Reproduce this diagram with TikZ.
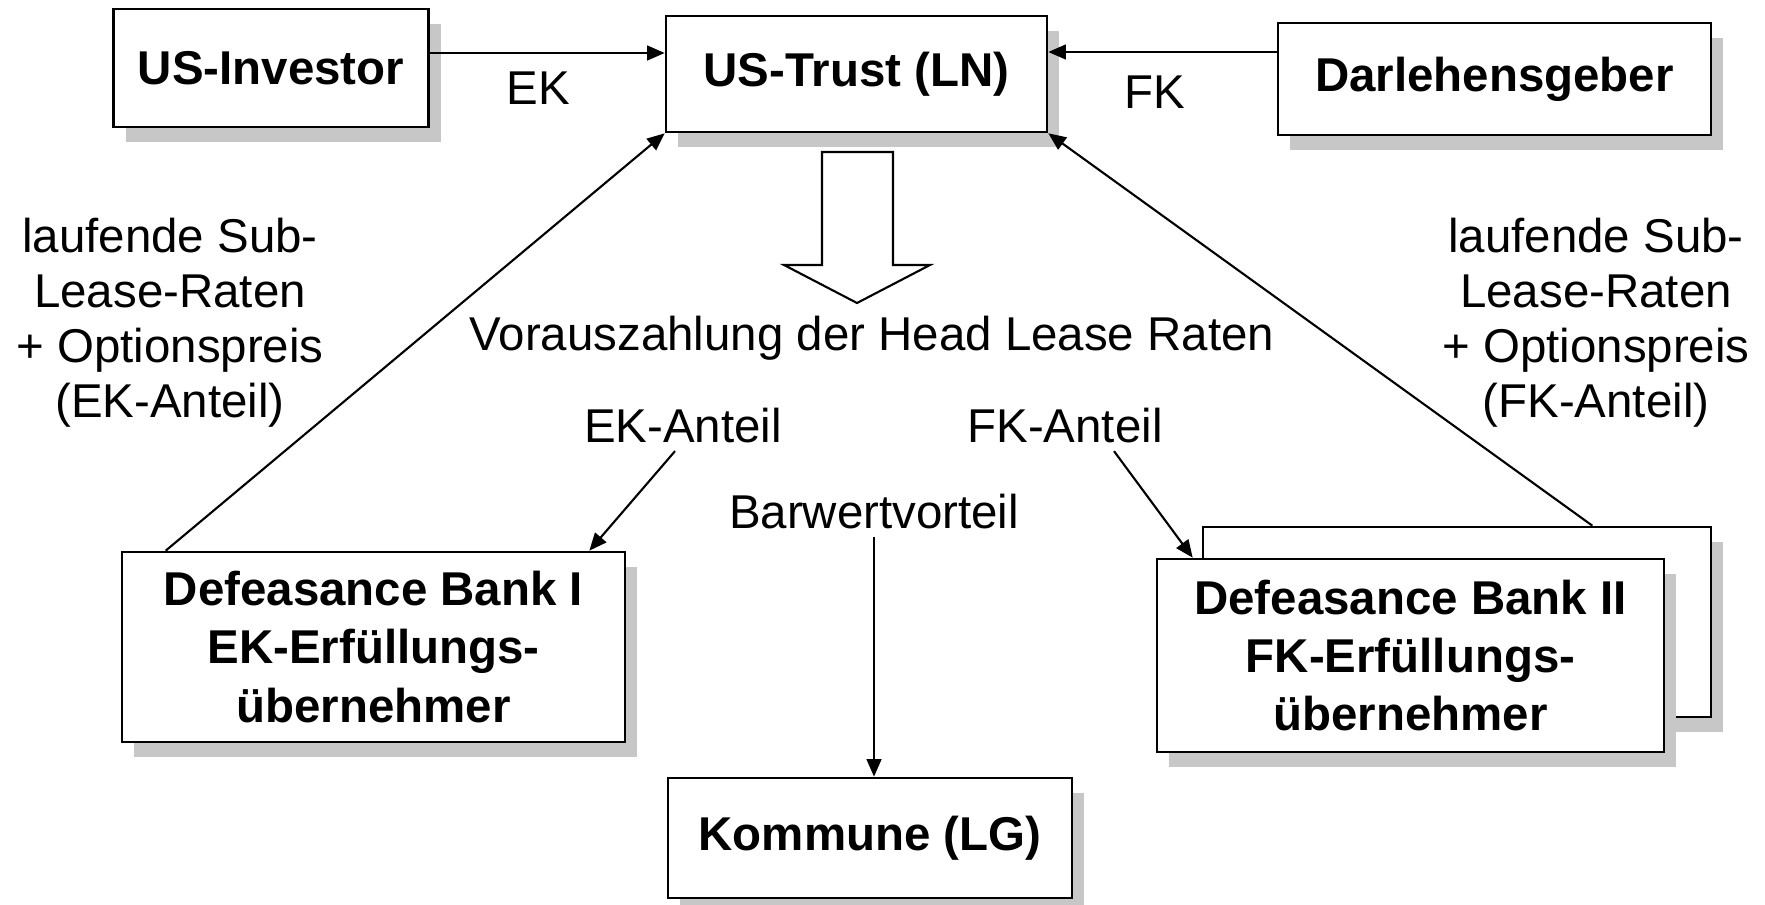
\documentclass[tikz,border=0pt]{standalone}
\usepackage{fontspec}
\setmainfont{Liberation Sans}
\usetikzlibrary{arrows.meta}
\usetikzlibrary{shadows}
\tikzset{>={Triangle[length=5pt,width=4.2pt]}}

\begin{document}
\begin{tikzpicture}[
    box/.style={draw, line width=.75pt, fill=white, align=center, inner sep=0pt,
      font=\fontsize{13.5}{16.6}\selectfont\bfseries,
      drop shadow={shadow xshift=.12cm, shadow yshift=-.15cm, fill=black!22, opacity=1}},
    txt/.style={align=center, inner sep=2pt, font=\fontsize{13.5}{15.7}\selectfont},
    flow/.style={->, semithick}]
  \useasboundingbox (0,0) rectangle (17.65,-9.04);
  % boxes
  \node[box, minimum width=3.15cm, minimum height=1.18cm] (inv) at (2.71,-0.68) {US-Investor};
  \node[box, minimum width=3.81cm, minimum height=1.16cm] (trust) at (8.565,-0.74) {US-Trust (LN)};
  \node[box, minimum width=4.33cm, minimum height=1.12cm] (dar) at (14.945,-0.79) {Darlehensgeber};
  \node[box, minimum width=5.03cm, minimum height=1.90cm] (defI) at (3.735,-6.47)
    {Defeasance Bank I\\EK-Erfüllungs-\\übernehmer};
  \node[box, minimum width=5.08cm, minimum height=1.90cm] (defIIb) at (14.57,-6.22) {};
  \node[box, minimum width=5.07cm, minimum height=1.93cm] (defII) at (14.105,-6.555)
    {Defeasance Bank II\\FK-Erfüllungs-\\übernehmer};
  \node[box, minimum width=4.04cm, minimum height=1.20cm] (kom) at (8.70,-8.38) {Kommune (LG)};
  % hollow arrow
  \draw[line width=.6pt] (8.22,-1.52) -- (8.93,-1.52) -- (8.93,-2.65) -- (9.30,-2.65)
    -- (8.57,-3.03) -- (7.84,-2.65) -- (8.22,-2.65) -- cycle;
  % labels
  \node[txt] (ek) at (5.38,-0.88) {EK};
  \node[txt] (fk) at (11.55,-0.92) {FK};
  \node[txt] (lsub) at (1.70,-3.225) {laufende Sub-\\Lease-Raten\\+ Optionspreis\\(EK-Anteil)};
  \node[txt] (rsub) at (15.96,-3.225) {laufende Sub-\\Lease-Raten\\+ Optionspreis\\(FK-Anteil)};
  \node[txt] (vz) at (8.72,-3.38) {Vorauszahlung der Head Lease Raten};
  \node[txt] (ekant) at (6.83,-4.26) {EK-Anteil};
  \node[txt] (fkant) at (10.65,-4.26) {FK-Anteil};
  \node[txt] (bw) at (8.74,-5.12) {Barwertvorteil};
  % arrows
  \draw[flow] ([yshift=1.5mm]inv.east) -- ([yshift=1.5mm]inv.east -| trust.west);
  \draw[flow] ([yshift=2.7mm]dar.west) -- ([yshift=2.7mm]dar.west -| trust.east);
  \draw[flow] ([xshift=4.5mm]defI.north west) -- (trust.south west);
  \draw[flow] ([xshift=-1.2cm]defIIb.north east) -- (trust.south east);
  \draw[flow] ([xshift=-.8mm]ekant.south) -- ([xshift=-3.7mm]defI.north east);
  \draw[flow] ([xshift=4.9mm]fkant.south) -- ([xshift=3.7mm]defII.north west);
  \draw[flow] (bw.south) -- (bw.south |- kom.north);
\end{tikzpicture}
\end{document}
